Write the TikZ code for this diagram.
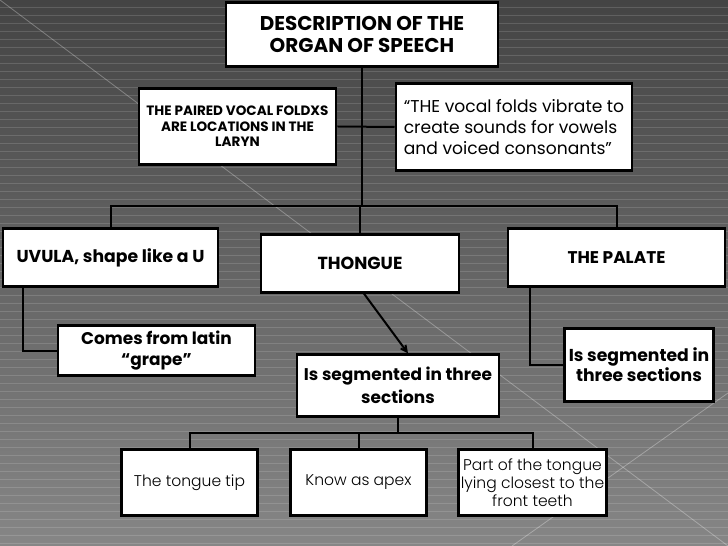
\documentclass[tikz,border=0pt]{standalone}
\usepackage{fontspec}
\setmainfont{Poppins}
\newfontfamily\thinfont{Poppins}[UprightFont={* Light}]
\usetikzlibrary{arrows.meta}
\definecolor{bgtop}{RGB}{68,68,68}
\definecolor{bgbot}{RGB}{134,134,134}
\begin{document}
\begin{tikzpicture}[x=1bp,y=-1bp,
    box/.style={draw=black,fill=white,line width=2.6bp,align=center,inner sep=0pt},
    heavy/.style={font=\fontsize{17}{20.5}\selectfont\bfseries},
    thin/.style={font=\fontsize{15.6}{18}\selectfont\thinfont},
    link/.style={black,line width=2bp},
    stripe/.style={white,opacity=0.14,line width=1bp},
    streak/.style={white,opacity=0.3,line width=0.8bp}]
  \useasboundingbox (0,0) rectangle (728,546);
  \shade[top color=bgtop,bottom color=bgbot] (0,0) rectangle (728,546);
  \foreach \y in {7.5,15.5,...,546}
    \draw[stripe] (0,\y) -- (728,\y);
  \draw[streak] (0,0) -- (728,546);
  \draw[streak] (512,546) -- (728,393);

  \node[box,minimum width=273,minimum height=64,font=\fontsize{20}{22}\selectfont\bfseries]
    (desc) at (362,34.5) {DESCRIPTION OF THE\\ORGAN OF SPEECH};
  \node[box,minimum width=198,minimum height=76,font=\fontsize{13.6}{15.7}\selectfont\bfseries]
    (paired) at (237.5,126.5) {THE PAIRED VOCAL FOLDXS\\ARE LOCATIONS IN THE\\LARYN};
  \node[box,align=left,minimum width=237,minimum height=87,font=\fontsize{17.2}{21}\selectfont]
    (quote) at (514,127) {“THE vocal folds vibrate to\\create sounds for vowels\\and voiced consonants”};
  \node[box,heavy,minimum width=216,minimum height=58,font=\fontsize{17.3}{20}\selectfont\bfseries]
    (uvula) at (110.5,257.5) {UVULA, shape like a U};
  \node[box,heavy,minimum width=199,minimum height=58,font=\fontsize{17.5}{20}\selectfont\bfseries]
    (thongue) at (360,263.5) {THONGUE};
  \node[box,heavy,minimum width=218,minimum height=58] (palate) at (616.5,257.5) {THE PALATE};
  \node[box,heavy,minimum width=198,minimum height=50] (latin) at (156.5,350.5) {Comes from latin\\“grape”};
  \node[box,minimum width=203,minimum height=62,font=\fontsize{17}{23}\selectfont\bfseries]
    (three) at (398,385.5) {Is segmented in three\\sections};
  \node[box,minimum width=149,minimum height=73,font=\fontsize{17.3}{20}\selectfont\bfseries]
    (palsec) at (639,365) {Is segmented in\\three sections};
  \node[box,thin,minimum width=136,minimum height=66] (tip) at (189.5,482.5) {The tongue tip};
  \node[box,thin,minimum width=136,minimum height=66] (apex) at (358.5,482.5) {Know as apex};
  \node[box,thin,minimum width=148,minimum height=66] (part) at (532.5,482.5) {Part of the tongue\\lying closest to the\\front teeth};

  \coordinate (hub) at (362,206);
  \coordinate (fork) at (398,433);
  \begin{scope}[link]
    \draw (desc.south) -- (hub);
    \draw (paired.east) -- (quote.west);
    \draw (uvula.north) |- (hub) -| (palate.north);
    \draw (thongue.north) -- (thongue.north |- hub);
    \draw ([xshift=21bp]uvula.south west) |- (latin.west);
    \draw ([xshift=23bp]palate.south west) |- (palsec.west);
    \draw[-{Straight Barb[length=6bp,width=6bp]}] ([xshift=4bp]thongue.south) -- ([xshift=10bp]three.north);
    \draw (three.south) -- (fork);
    \draw (tip.north) |- (fork) -| (part.north);
    \draw (apex.north) -- (apex.north |- fork);
  \end{scope}
\end{tikzpicture}
\end{document}
